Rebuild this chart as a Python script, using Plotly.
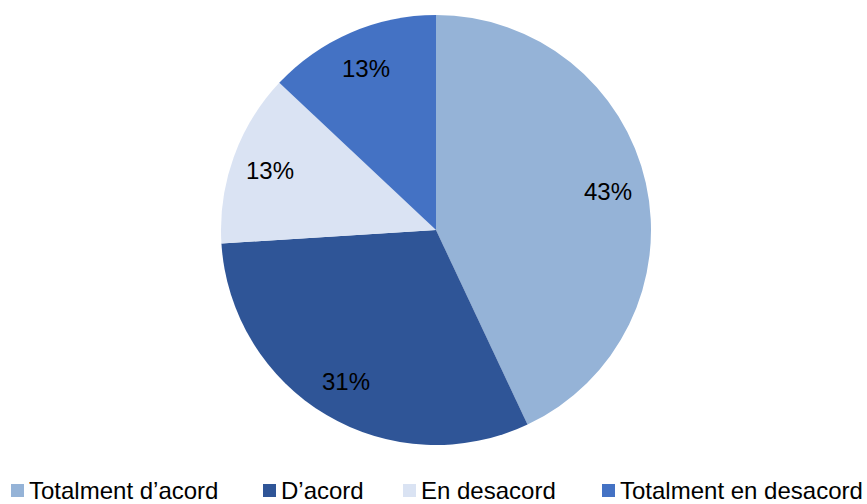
import math
import plotly.graph_objects as go

labels = ["Totalment d\u2019acord", "D\u2019acord", "En desacord", "Totalment en desacord"]
values = [43, 31, 13, 13]
colors = ["#95B3D7", "#2F5597", "#DAE3F3", "#4472C4"]

W, H = 867, 504
FONT = "Liberation Sans, Arial"

# pie placement (px)
cx, cy, rad = 436, 230, 215
dom_x = [(cx - rad) / W, (cx + rad) / W]
dom_y = [1 - (cy + rad) / H, 1 - (cy - rad) / H]

fig = go.Figure(go.Pie(
    labels=labels,
    values=values,
    marker=dict(colors=colors, line=dict(width=0)),
    sort=False,
    direction="clockwise",
    rotation=0,
    textinfo="none",
    hoverinfo="label+percent",
    domain=dict(x=dom_x, y=dom_y),
    showlegend=False,
))

# percentage labels placed along each slice's mid angle
total = sum(values)
cum = 0
annotations = []
for v in values:
    mid = (cum + v / 2) / total * 2 * math.pi
    cum += v
    r = 0.82 * rad
    px = cx + r * math.sin(mid)
    py = cy - r * math.cos(mid)
    annotations.append(dict(
        x=px / W, y=1 - py / H, xref="paper", yref="paper",
        text=f"{round(v / total * 100)}%", showarrow=False,
        xanchor="center", yanchor="middle",
        font=dict(family=FONT, size=24, color="black"),
    ))

# legend drawn by hand to match the spacing
leg_marker_x = [11, 263, 403, 602]
leg_y = 490
shapes = []
for lx, lab, col in zip(leg_marker_x, labels, colors):
    shapes.append(dict(
        type="rect", xref="paper", yref="paper",
        x0=lx / W, x1=(lx + 13) / W,
        y0=1 - (leg_y + 7) / H, y1=1 - (leg_y - 6) / H,
        fillcolor=col, line=dict(width=0),
    ))
    annotations.append(dict(
        x=(lx + 16) / W, y=1 - leg_y / H, xref="paper", yref="paper",
        text=lab, showarrow=False, xanchor="left", yanchor="middle",
        font=dict(family=FONT, size=24, color="black"),
    ))

fig.update_layout(
    width=W, height=H,
    margin=dict(l=0, r=0, t=0, b=0),
    paper_bgcolor="white",
    font=dict(family=FONT, size=24, color="black"),
    annotations=annotations,
    shapes=shapes,
    showlegend=False,
)

fig.write_html("out.html", config={"displayModeBar": False},
               post_script="document.body.style.margin='0';")
